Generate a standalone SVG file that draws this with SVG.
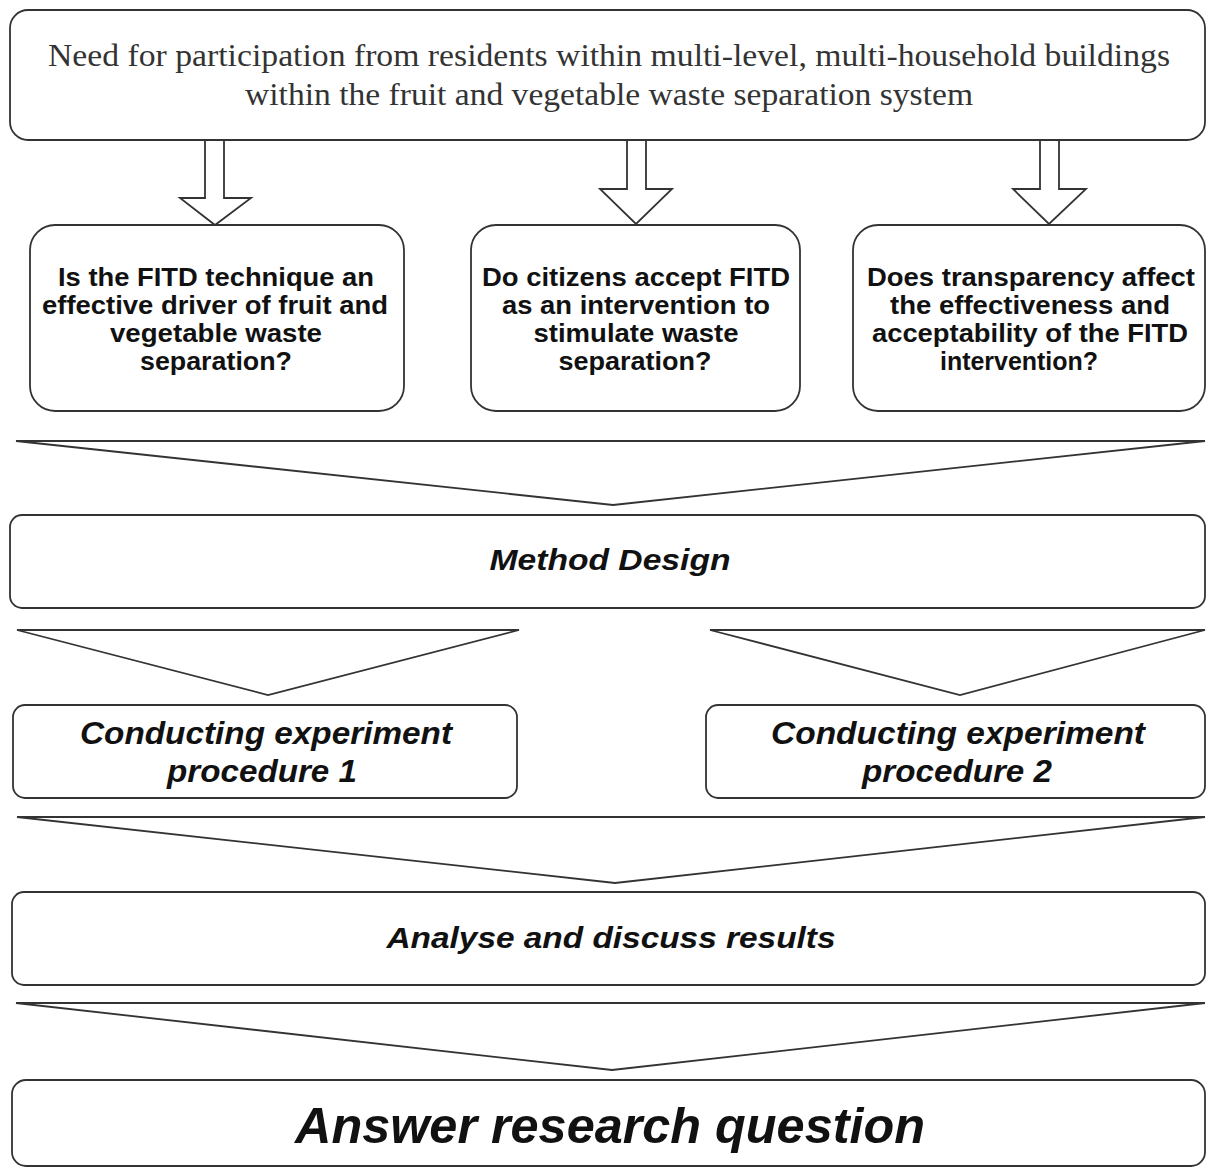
<svg xmlns="http://www.w3.org/2000/svg" width="1206" height="1169" viewBox="0 0 1206 1169">
<style>
.box{fill:#fff;stroke:#333;stroke-width:1.8}
.arr{fill:#fff;stroke:#333;stroke-width:1.8;stroke-linejoin:miter}
.serif{font-family:"Liberation Serif","Times New Roman",serif;font-size:31px;fill:#333;text-anchor:middle}
.q{font-family:"Liberation Sans",Arial,sans-serif;font-weight:bold;font-size:25px;fill:#111;text-anchor:middle}
.bi{font-family:"Liberation Sans",Arial,sans-serif;font-weight:bold;font-style:italic;fill:#111;text-anchor:middle}
</style>
<rect width="1206" height="1169" fill="#fff"/>
<g id="connectors">
<polygon class="arr" points="205,140 224,140 224,198 251,198 215,225 180,198 205,198"/>
<polygon class="arr" points="627,140 646,140 646,189 672,189 636,224 600,189 627,189"/>
<polygon class="arr" points="1040,140 1059,140 1059,189 1086,189 1049,224 1013,189 1040,189"/>
<polygon class="arr" points="16,441 1205,441 613,505"/>
<polygon class="arr" points="17,630 519,630 268,695"/>
<polygon class="arr" points="710,630 1205,630 960,695"/>
<polygon class="arr" points="17,817 1205,817 615,883"/>
<polygon class="arr" points="16,1003 1205,1003 612,1070"/>
</g>
<g id="need">
<rect class="box" x="10" y="10" width="1195" height="130" rx="18"/>
<text class="serif" x="609" y="66" textLength="1122" lengthAdjust="spacingAndGlyphs">Need for participation from residents within multi-level, multi-household buildings</text>
<text class="serif" x="609" y="105" textLength="728" lengthAdjust="spacingAndGlyphs">within the fruit and vegetable waste separation system</text>
</g>
<g id="q1">
<rect class="box" x="30" y="225" width="374" height="186" rx="25"/>
<text class="q" x="216" y="286" textLength="316" lengthAdjust="spacingAndGlyphs">Is the FITD technique an</text>
<text class="q" x="215" y="314" textLength="346" lengthAdjust="spacingAndGlyphs">effective driver of fruit and</text>
<text class="q" x="216" y="342" textLength="212" lengthAdjust="spacingAndGlyphs">vegetable waste</text>
<text class="q" x="216" y="370" textLength="152" lengthAdjust="spacingAndGlyphs">separation?</text>
</g>
<g id="q2">
<rect class="box" x="471" y="225" width="329" height="186" rx="25"/>
<text class="q" x="636" y="286" textLength="308" lengthAdjust="spacingAndGlyphs">Do citizens accept FITD</text>
<text class="q" x="636" y="314" textLength="268" lengthAdjust="spacingAndGlyphs">as an intervention to</text>
<text class="q" x="636" y="342" textLength="205" lengthAdjust="spacingAndGlyphs">stimulate waste</text>
<text class="q" x="635" y="370" textLength="153" lengthAdjust="spacingAndGlyphs">separation?</text>
</g>
<g id="q3">
<rect class="box" x="853" y="225" width="352" height="186" rx="25"/>
<text class="q" x="1031" y="286" textLength="328" lengthAdjust="spacingAndGlyphs">Does transparency affect</text>
<text class="q" x="1030" y="314" textLength="280" lengthAdjust="spacingAndGlyphs">the effectiveness and</text>
<text class="q" x="1030" y="342" textLength="316" lengthAdjust="spacingAndGlyphs">acceptability of the FITD</text>
<text class="q" x="1019" y="370" textLength="158" lengthAdjust="spacingAndGlyphs">intervention?</text>
</g>
<g id="method">
<rect class="box" x="10" y="515" width="1195" height="93" rx="12"/>
<text class="bi" x="610" y="570" font-size="29" textLength="241" lengthAdjust="spacingAndGlyphs">Method Design</text>
</g>
<g id="proc1">
<rect class="box" x="13" y="705" width="504" height="93" rx="12"/>
<text class="bi" x="266" y="744" font-size="31" textLength="372" lengthAdjust="spacingAndGlyphs">Conducting experiment</text>
<text class="bi" x="262" y="782" font-size="31" textLength="190" lengthAdjust="spacingAndGlyphs">procedure 1</text>
</g>
<g id="proc2">
<rect class="box" x="706" y="705" width="499" height="93" rx="12"/>
<text class="bi" x="958" y="744" font-size="31" textLength="374" lengthAdjust="spacingAndGlyphs">Conducting experiment</text>
<text class="bi" x="957" y="782" font-size="31" textLength="190" lengthAdjust="spacingAndGlyphs">procedure 2</text>
</g>
<g id="analyse">
<rect class="box" x="12" y="892" width="1193" height="93" rx="12"/>
<text class="bi" x="611" y="948" font-size="29" textLength="449" lengthAdjust="spacingAndGlyphs">Analyse and discuss results</text>
</g>
<g id="answer">
<rect class="box" x="12" y="1080" width="1193" height="86" rx="14"/>
<text class="bi" x="610" y="1143" font-size="50" textLength="630" lengthAdjust="spacingAndGlyphs">Answer research question</text>
</g>
</svg>
